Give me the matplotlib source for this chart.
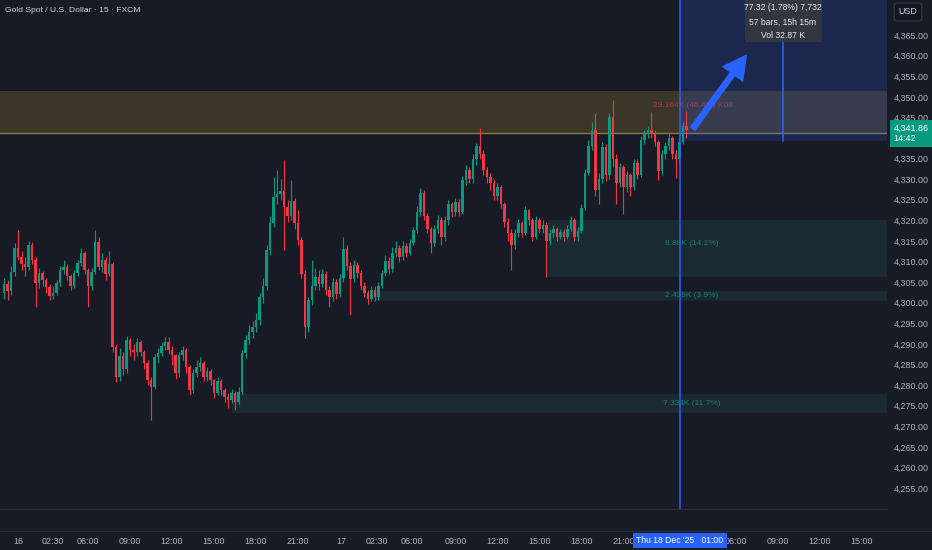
import numpy as np
import matplotlib
matplotlib.use('Agg')
import matplotlib.pyplot as plt
from matplotlib import transforms
from matplotlib.patches import Rectangle
from matplotlib.lines import Line2D

# 15 minute bars, bar 0 = 16 Dec 00:00
bar_start = -4
first_open = 4302.5
closes = [
    4304.6, 4302.8, 4307.5, 4313.2, 4311.2, 4309.5, 4308.8, 4314.0, 4310.4, 4304.7,
    4307.2, 4305.5, 4303.8, 4301.6, 4302.5, 4304.7, 4308.0, 4308.8, 4306.5, 4304.0,
    4307.2, 4309.6, 4312.0, 4308.0, 4304.0, 4307.5, 4314.8, 4308.8, 4310.5, 4307.0,
    4309.5, 4289.3, 4282.0, 4287.0, 4284.0, 4291.0, 4288.5, 4288.0, 4290.5, 4288.0,
    4285.3, 4281.3, 4279.6, 4286.8, 4287.8, 4289.5, 4290.6, 4288.5, 4287.3, 4282.9,
    4287.3, 4288.5, 4284.5, 4278.8, 4282.9, 4284.5, 4285.5, 4282.0, 4283.5, 4281.2,
    4278.0, 4281.0, 4278.8, 4277.2, 4276.4, 4278.0, 4276.0, 4278.4, 4287.7, 4291.0,
    4293.0, 4294.2, 4295.8, 4301.5, 4304.0, 4312.8, 4319.3, 4325.8, 4326.5, 4327.2,
    4323.3, 4321.0, 4324.8, 4319.3, 4315.2, 4307.1, 4294.2, 4300.7, 4304.0, 4306.3,
    4304.5, 4307.0, 4303.2, 4301.5, 4305.0, 4302.2, 4306.0, 4313.0, 4309.0, 4305.8,
    4309.2, 4307.2, 4304.2, 4302.3, 4301.0, 4303.2, 4301.4, 4304.0, 4307.2, 4310.2,
    4308.2, 4312.0, 4313.4, 4311.0, 4313.8, 4312.0, 4314.5, 4317.7, 4322.0, 4326.6,
    4321.0, 4318.0, 4314.5, 4318.0, 4320.0, 4316.0, 4320.0, 4324.0, 4322.0, 4324.5,
    4322.0, 4329.8, 4332.2, 4330.0, 4335.0, 4338.0, 4336.0, 4332.2, 4330.5, 4329.2,
    4326.0, 4328.0, 4324.0, 4319.5, 4317.0, 4314.0, 4317.0, 4319.3, 4317.0, 4322.5,
    4320.0, 4316.0, 4320.0, 4318.0, 4319.0, 4315.0, 4317.0, 4318.0, 4316.0, 4317.2,
    4316.0, 4318.0, 4320.0, 4316.0, 4317.5, 4323.0, 4331.5, 4338.0, 4342.0, 4327.4,
    4330.0, 4337.8, 4331.0, 4345.0, 4335.0, 4329.0, 4333.0, 4328.0, 4331.0, 4328.0,
    4334.0, 4331.0, 4339.5, 4341.0, 4342.0, 4341.0, 4339.0, 4332.0, 4336.0, 4338.0,
    4340.0, 4336.0, 4335.0, 4339.0, 4343.0, 4341.86,
]
highs = [
    4306, 4305.5, 4309, 4314.5, 4317.7, 4312.5, 4311, 4315, 4314.8, 4311,
    4308.5, 4307.8, 4306, 4304.5, 4304, 4305.5, 4309, 4310.4, 4309.5, 4307,
    4308, 4310.5, 4313.2, 4312.5, 4308.5, 4308.5, 4317.7, 4316, 4312, 4311,
    4312.5, 4310, 4290, 4289, 4288, 4292, 4291.5, 4290, 4291.5, 4291,
    4288.5, 4286, 4282, 4287.5, 4289, 4290.5, 4291.8, 4291.8, 4289.5, 4287.5,
    4288, 4289.5, 4289, 4285, 4284, 4286, 4286.8, 4285.8, 4284.5, 4284,
    4281.5, 4282, 4281.5, 4279.2, 4278, 4279, 4278.5, 4279.5, 4288.5, 4292.2,
    4294.5, 4295.5, 4297.5, 4302.5, 4306, 4314, 4321, 4330.6, 4332.2, 4330,
    4334.7, 4325, 4329.8, 4325.5, 4322.5, 4316, 4308, 4301.5, 4310.4, 4308.5,
    4308, 4308.3, 4307.8, 4304, 4306, 4305.8, 4307, 4316, 4314, 4310,
    4310.5, 4310, 4308, 4305, 4303, 4304, 4304, 4305, 4308, 4311.5,
    4311, 4313.5, 4315, 4314, 4315, 4314.5, 4315.5, 4318.5, 4323.5, 4327.8,
    4327.3, 4321.8, 4318.5, 4319, 4321.2, 4320.8, 4321, 4324.9, 4324.5, 4325.5,
    4325.2, 4330.8, 4333.5, 4333, 4336, 4338.8, 4342.4, 4337, 4333, 4331.5,
    4330, 4329, 4328.5, 4324.5, 4320.5, 4318, 4318, 4320.3, 4319.8, 4323.5,
    4322.8, 4320.5, 4321, 4320.5, 4320, 4319.5, 4318, 4319, 4318.5, 4318,
    4317.8, 4319, 4321, 4320.5, 4318.5, 4324, 4332.5, 4339.5, 4344, 4346,
    4331.5, 4339, 4338.5, 4346, 4349.2, 4336, 4334, 4333.5, 4332, 4331.5,
    4335, 4335, 4340.5, 4342, 4343, 4346.3, 4342, 4339.5, 4337, 4339,
    4341, 4340.5, 4337, 4340, 4344, 4346.5,
]
lows = [
    4301, 4300.8, 4302, 4306.5, 4310.5, 4308, 4306.5, 4308, 4309.5, 4299,
    4303.5, 4304, 4302.5, 4300.8, 4301, 4302, 4304, 4307, 4305.5, 4303,
    4303.5, 4306.5, 4309, 4307, 4299, 4303, 4307, 4308, 4307.5, 4305.5,
    4306.5, 4288, 4280.8, 4281, 4282.5, 4283, 4287, 4286, 4287, 4287,
    4284, 4280, 4271.6, 4279, 4285.5, 4287, 4288.5, 4287.5, 4285, 4281.5,
    4282, 4286, 4283, 4277.5, 4278, 4282, 4283.5, 4281, 4281, 4280,
    4276.8, 4277.5, 4277.5, 4276, 4274.4, 4275.8, 4274, 4275.5, 4277.8, 4286.5,
    4290, 4291.5, 4293, 4294.5, 4300, 4303, 4311.5, 4318.5, 4324, 4325,
    4312.8, 4319.5, 4320, 4318, 4314, 4306, 4291.4, 4293, 4299.5, 4303,
    4303, 4303.8, 4302, 4299, 4300.5, 4301, 4301.5, 4305, 4308, 4297,
    4305, 4306, 4303, 4301.5, 4299.6, 4300.5, 4300.5, 4300.8, 4303.5, 4306.5,
    4307, 4307.5, 4311, 4310, 4310.5, 4311, 4311.5, 4314, 4317, 4321,
    4320, 4317, 4312, 4313.8, 4317, 4314, 4315, 4319, 4320.8, 4321,
    4321, 4321.5, 4328.5, 4329, 4329, 4333.5, 4335, 4331, 4329, 4327.5,
    4325, 4325, 4323, 4318.5, 4315, 4308, 4313, 4316, 4316, 4316.5,
    4319, 4315, 4315.5, 4317, 4317, 4306.3, 4314, 4316, 4315, 4315.5,
    4315, 4315.5, 4317.5, 4315, 4315, 4317, 4322.5, 4331, 4337, 4326,
    4324, 4329, 4329.5, 4330, 4333, 4324, 4328, 4321.5, 4327, 4326,
    4327.5, 4330, 4330.5, 4338.5, 4340, 4340, 4338, 4329.8, 4331, 4335,
    4337, 4335, 4330.3, 4334, 4338.5, 4340,
]

tick_bars = [0, 10, 20, 32, 44, 56, 68, 80, 92.5, 102.5, 112.5, 125, 137, 149,
             161, 173, 205, 217, 229, 241]
tick_labels = ['16', '02:30', '06:00', '09:00', '12:00', '15:00', '18:00', '21:00',
               '17', '02:30', '06:00', '09:00', '12:00', '15:00', '18:00', '21:00',
               '06:00', '09:00', '12:00', '15:00']

# volume zones: (first bar, low, high, label)
supply_zone = (4341.2, 4351.4, '29.164K (46.4%) K08')
demand_zones = [
    (151.4, 4306.2, 4320.1, '8.88K (14.1%)'),
    (102.0, 4300.5, 4302.9, '2.439K (3.9%)'),
    (61.0, 4273.3, 4277.9, '7.334K (11.7%)'),
]
cursor_bar = 189.1
measure_low = 4339.3
measure_end_bar = 218.6
measure_lines = ['77.32 (1.78%) 7,732', '57 bars, 15h 15m', 'Vol 32.87 K']
last_price = 4341.86

bg = '#181b26'
up, down = '#089981', '#f23645'
txt = '#b2b5be'
plt.rcParams['font.family'] = ['Liberation Sans', 'DejaVu Sans']

x = np.arange(bar_start, bar_start + len(closes))
c = np.array(closes)
o = np.concatenate([[first_open], c[:-1]])
h = np.maximum(np.array(highs), np.maximum(o, c))
l = np.minimum(np.array(lows), np.minimum(o, c))
col = np.where(c >= o, up, down)

fig = plt.figure(figsize=(9.32, 5.5), dpi=100, facecolor=bg)
ax = fig.add_axes([0, 41 / 550, 887 / 932, 509 / 550], facecolor=bg)
xmin, xmax = -5.15, 248.3
ymin, ymax = 4249.95, 4373.5
ax.set_xlim(xmin, xmax)
ax.set_ylim(ymin, ymax)

# zones
lo, hi, lab = supply_zone
ax.add_patch(Rectangle((xmin, lo), xmax - xmin, hi - lo, fc='#c9a43a', alpha=0.2, ec='none', zorder=1))
ax.plot([xmin, xmax], [lo, lo], color='#8c8040', lw=0.9, zorder=1)
ax.text(192.9, 4347.8, lab, color='#b03a4c', fontsize=6, ha='center', va='center', zorder=2)
for b0, zlo, zhi, zlab in demand_zones:
    ax.add_patch(Rectangle((b0, zlo), xmax - b0, zhi - zlo, fc='#26a69a', alpha=0.11, ec='none', zorder=1))
    ax.text(192.6, (zlo + zhi) / 2 if zhi - zlo < 6 else zhi - 5.6, zlab, color='#1f7a6e',
            fontsize=6, ha='center', va='center', zorder=2)

# candles
ax.vlines(x, l, h, colors=col, lw=0.8, zorder=3)
body = np.where(np.abs(c - o) < 0.15, 0.15, np.abs(c - o))
ax.bar(x, body, bottom=np.minimum(o, c), width=0.62, color=col, zorder=4, linewidth=0)

# measurement region
ax.add_patch(Rectangle((cursor_bar, measure_low), xmax - cursor_bar, ymax - measure_low,
                       fc='#2962ff', alpha=0.18, ec='none', zorder=2))
ax.axvline(cursor_bar, color='#2962ff', lw=1.1, zorder=5)
ax.plot([measure_end_bar, measure_end_bar], [measure_low, 4363.3], color='#2962ff', lw=1.1, zorder=5)
ax.add_patch(Rectangle((207.7, 4363.3), 22, ymax - 4363.3, fc='#33363f', ec='none', zorder=6))
for yy, s in zip([4371.6, 4368.2, 4365.0], measure_lines):
    ax.text(218.6, yy, s, color='#e6e8ee', fontsize=6.2, ha='center', va='center', zorder=7)
ax.annotate('', xy=(208.8, 4360.9), xytext=(192.2, 4341.6),
            arrowprops=dict(arrowstyle='simple,head_width=1.6,head_length=1.5,tail_width=0.4',
                            mutation_scale=12, fc='#2962ff', ec='none'), zorder=8)

# axes styling
for s in ax.spines.values():
    s.set_visible(False)
ax.plot([xmin, xmax], [ymin, ymin], color='#2a2e39', lw=1, clip_on=False)
ax.yaxis.tick_right()
yt = [p for p in range(4255, 4366, 5) if p != 4340]
ax.set_yticks(yt)
ax.set_yticklabels([f'{p:,.2f}' for p in yt])
ax.tick_params(axis='y', length=0, pad=5, labelsize=6.4, labelcolor=txt)
ax.set_xticks(tick_bars)
ax.set_xticklabels(tick_labels)
ax.tick_params(axis='x', length=0, pad=20, labelsize=6.4, labelcolor=txt)

fig.add_artist(Line2D([0, 1], [19 / 550, 19 / 550], color='#2a2e39', lw=0.8))

bt = transforms.blended_transform_factory(ax.transData, fig.transFigure)
ax.text(cursor_bar, 9.5 / 550, "Thu 18 Dec '25   01:00", transform=bt, ha='center', va='center',
        color='white', fontsize=6.2, bbox=dict(boxstyle='square,pad=0.4', fc='#2962ff', ec='none'))

ax.annotate(f'{last_price:,.2f}\n14:42', xy=(1, last_price), xycoords=('axes fraction', 'data'),
            xytext=(4.5, -2.3), textcoords='offset points', ha='left', va='center',
            color='white', fontsize=6.4, linespacing=1.2, annotation_clip=False,
            bbox=dict(boxstyle='square,pad=0.4', fc='#089981', ec='none'))

fig.text(908 / 932, 1 - 12 / 550, 'USD', ha='center', va='center', color='#d1d4dc', fontsize=6.4,
         bbox=dict(boxstyle='round,pad=0.5,rounding_size=0.3', fc='#131722', ec='#363a45', lw=0.8))
fig.text(5 / 932, 1 - 11 / 550, 'Gold Spot / U.S. Dollar · 15 · FXCM', ha='left', va='center',
         color='#d1d4dc', fontsize=6.1)

fig.savefig('out.png', dpi=100, facecolor=bg)
